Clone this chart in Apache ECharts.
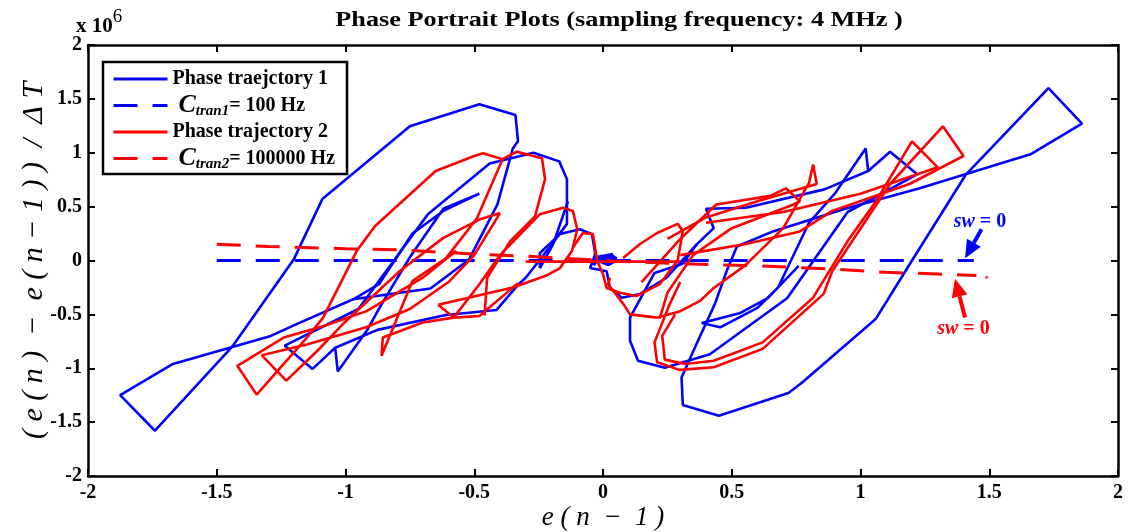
<!DOCTYPE html>
<html><head><meta charset="utf-8">
<script src="https://cdn.jsdelivr.net/npm/echarts@6/dist/echarts.min.js"></script>
<style>html,body{margin:0;padding:0;background:#fff}#c{width:1139px;height:532px}</style>
</head><body><div id="c"></div>
<script>
// x: e(n-1); y: (e(n)-e(n-1))/dT in units of 10^6
const xTicks = [-2,-1.5,-1,-0.5,0,0.5,1,1.5,2];
const yTicks = [-2,-1.5,-1,-0.5,0,0.5,1,1.5,2];

// ---- Phase trajectory 1 (blue) pieces ----
const blueOuterL = [[-0.52,0.01],[-0.41,0.52],[-0.35,1.04],[-0.33,1.11],[-0.34,1.35],[-0.48,1.45],[-0.75,1.245],[-1.09,0.57],[-1.2,0.015],[-1.44,-0.80],[-1.74,-1.58],[-1.875,-1.25],[-1.67,-0.96],[-1.29,-0.70],[-1.19,-0.59],[-0.97,-0.36],[-0.67,-0.26],[-0.52,0.01]];
const blueOuterR = [[0.48,-0.10],[0.435,-0.40],[0.364,-0.77],[0.305,-1.085],[0.31,-1.34],[0.45,-1.44],[0.72,-1.23],[0.77,-1.14],[1.06,-0.54],[1.20,0.0],[1.41,0.80],[1.73,1.60],[1.86,1.27],[1.66,0.985],[1.42,0.81],[1.23,0.67],[0.94,0.48],[0.66,0.27],[0.52,0.13],[0.48,-0.10]];
const blueLoop2L = [[-0.30,-0.16],[-0.326,-0.215],[-0.414,-0.46],[-0.61,-0.506],[-0.876,-0.644],[-1.04,-0.81],[-1.128,-1.006],[-1.236,-0.79],[-0.95,-0.45],[-0.68,0.43],[-0.44,0.90],[-0.27,1.0],[-0.17,0.92],[-0.14,0.755],[-0.14,0.34],[-0.21,0.115],[-0.30,-0.16]];
const blueLoop3L = [[-1.04,-0.81],[-1.03,-1.03],[-0.917,-0.65],[-0.866,-0.43],[-0.75,0.03],[-0.62,0.48],[-0.48,0.62],[-0.62,0.46],[-0.74,0.25],[-0.87,-0.22],[-0.97,-0.36]];
const blueLoop2R = [[0.31,-0.03],[0.364,0.15],[0.43,0.30],[0.40,0.48],[0.555,0.49],[0.86,0.66],[1.03,0.83],[1.115,1.01],[1.22,0.80],[0.95,0.45],[0.715,-0.35],[0.415,-0.87],[0.24,-0.995],[0.136,-0.93],[0.105,-0.745],[0.105,-0.53],[0.20,-0.115],[0.31,-0.03]];
const blueLoop3R = [[1.03,0.83],[1.02,1.04],[0.90,0.62],[0.80,0.35],[0.68,-0.25],[0.60,-0.44],[0.455,-0.62],[0.383,-0.58],[0.53,-0.49],[0.64,-0.35],[0.76,-0.05]];
const blueCenter = [[-0.136,0.55],[-0.194,0.15],[-0.245,-0.07],[-0.245,0.07],[-0.167,0.245],[-0.09,0.29],[-0.043,0.245],[-0.03,0.06],[-0.05,-0.07],[0.014,-0.10],[0.027,-0.25],[0.073,-0.345],[0.144,-0.31],[0.247,-0.16],[0.364,0.15]];
const blueBlob = [[-0.04,-0.04],[-0.02,0.03],[0.01,-0.02],[0.03,0.04],[0.05,0.01],[0.02,-0.03],[-0.03,0.02],[0.04,0.05]];
const blueDashed = [[-1.5,0],[1.44,0]];

// ---- Phase trajectory 2 (red) pieces ----
const redHoriz = [[0.30,-0.01],[-0.30,-0.01]];
const redL1 = [[-0.33,-0.21],[-0.48,-0.515],[-0.58,-0.53],[-0.70,-0.575],[-0.855,-0.715],[-0.86,-0.885],[-0.74,-0.19],[-0.61,0.02],[-0.49,0.39],[-0.39,0.94],[-0.334,1.01],[-0.237,0.95],[-0.225,0.755],[-0.264,0.41],[-0.36,0.18],[-0.45,-0.16],[-0.46,-0.51]];
const redL2 = [[-0.57,0.09],[-0.70,-0.16],[-0.918,-0.47],[-1.087,-0.61],[-1.24,-0.715],[-1.42,-0.977],[-1.345,-1.245],[-1.15,-0.715],[-1.087,-0.53],[-0.956,0.09],[-0.885,0.32],[-0.65,0.83],[-0.50,0.97],[-0.466,0.995],[-0.39,0.94]];
const redL3 = [[-0.40,0.44],[-0.48,0.38],[-0.62,0.21],[-0.79,-0.10],[-1.01,-0.59],[-1.11,-0.84],[-1.23,-1.115],[-1.325,-0.88],[-1.15,-0.78],[-0.92,-0.62],[-0.75,-0.45],[-0.60,-0.20],[-0.50,0.05],[-0.41,0.40],[-0.40,0.44]];
const redL4 = [[-0.64,-0.41],[-0.58,-0.53],[-0.48,-0.22],[-0.40,0.05],[-0.245,0.43],[-0.155,0.49],[-0.117,0.46],[-0.10,0.29],[-0.12,0.09],[-0.167,-0.07],[-0.22,-0.14],[-0.35,-0.25],[-0.64,-0.41]];
const redCenter = [[-0.117,0.12],[-0.078,0.255],[-0.039,0.245],[-0.023,0.0],[0.0,-0.125],[0.014,-0.255],[0.066,-0.30],[0.13,-0.33],[0.22,-0.22],[0.29,0.0],[0.31,0.275],[0.29,0.34],[0.21,0.255],[0.144,0.153],[0.078,0.023]];
const redR1 = [[0.027,-0.16],[0.02,-0.22],[0.078,-0.40],[0.105,-0.50],[0.21,-0.53],[0.30,-0.47],[0.377,-0.375],[0.43,-0.255],[0.55,-0.05],[0.70,0.30],[0.80,0.72],[0.816,0.89],[0.83,0.71],[0.60,0.55],[0.40,0.40],[0.25,0.20]];
const redRA = [[0.30,0.05],[0.55,0.15],[0.765,0.27],[0.89,0.46],[1.19,0.71],[1.40,0.97],[1.32,1.245],[1.115,0.71],[0.89,-0.10],[0.857,-0.31],[0.62,-0.82],[0.43,-0.99],[0.297,-1.015],[0.21,-0.945],[0.20,-0.76],[0.26,-0.40],[0.30,-0.20]];
const redRB = [[0.40,0.35],[0.70,0.45],[1.0,0.62],[1.30,0.865],[1.20,1.105],[1.06,0.55],[0.95,0.18],[0.816,-0.345],[0.62,-0.76],[0.43,-0.93],[0.32,-0.96],[0.24,-0.92],[0.23,-0.70],[0.28,-0.50]];
const redRC = [[0.15,-0.20],[0.30,0.20],[0.44,0.52],[0.65,0.60],[0.71,0.67],[0.765,0.55],[0.74,0.52],[0.50,0.30],[0.35,0.05],[0.25,-0.30],[0.22,-0.54]];
const redDashed = [[-1.5,0.15],[-1.3,0.13],[-1.0,0.11],[-0.8,0.10],[-0.5,0.06],[-0.3,0.04],[0,0.0],[0.3,-0.03],[0.6,-0.05],[0.9,-0.08],[1.1,-0.11],[1.3,-0.125],[1.45,-0.14]];
const redDot = [[1.49,-0.155]];

// annotation anchors (data coords)
const blueNote = {text:[1.464,0.36], tail:[1.47,0.29], tip:[1.406,0.02]};
const redNote = {text:[1.40,-0.63], tail:[1.406,-0.53], tip:[1.367,-0.17]};

const BLUE = '#0000FF', RED = '#FF0000';
const N1 = 'Phase traejctory 1', C1 = 'Ctran1', N2 = 'Phase trajectory 2', C2 = 'Ctran2';
const TITLE = 'Phase Portrait Plots (sampling frequency: 4 MHz )';
const YNAME = '( e ( n )  −  e ( n − 1 ) )  /  Δ T';
const XNAME = 'e ( n  −  1 )';

function solid(name, color, data, z){
  return {name, type:'line', data, symbol:'none', xAxisIndex:0, yAxisIndex:0,
    lineStyle:{color, width:2.6}, itemStyle:{color}, z: z||2, animation:false};
}
function dashed(name, color, data){
  return {name, type:'line', data, symbol:'none', lineStyle:{color, width:3, type:[24,15]}, itemStyle:{color}, z:3, animation:false};
}

const series = [
  solid(N1, BLUE, blueOuterL), solid(N1, BLUE, blueOuterR), solid(N1, BLUE, blueLoop2L), solid(N1, BLUE, blueLoop3L),
  solid(N1, BLUE, blueLoop2R), solid(N1, BLUE, blueLoop3R), solid(N1, BLUE, blueCenter),
  Object.assign(solid(N1, BLUE, blueBlob), {lineStyle:{color:BLUE,width:5}}),
  dashed(C1, BLUE, blueDashed),
  solid(N2, RED, redHoriz, 4), solid(N2, RED, redL1, 4), solid(N2, RED, redL2, 4), solid(N2, RED, redL3, 4), solid(N2, RED, redL4, 4),
  solid(N2, RED, redCenter, 4), solid(N2, RED, redR1, 4), solid(N2, RED, redRA, 4), solid(N2, RED, redRB, 4), solid(N2, RED, redRC, 4),
  dashed(C2, RED, redDashed),
  {name:C2, type:'scatter', data:redDot, symbol:'circle', symbolSize:3, itemStyle:{color:RED}, z:3, animation:false}
];

const serif = '"Liberation Serif", "Times New Roman", serif';
const axisLine = {show:true, onZero:false, lineStyle:{color:'#000', width:2.5}};
const tick = {inside:true, length:7, lineStyle:{color:'#000', width:2}};
const chart = echarts.init(document.getElementById('c'));
chart.setOption({
  animation:false,
  backgroundColor:'#fff',
  grid:{left:88, right:21, top:45, bottom:56, show:false, containLabel:false, outerBoundsMode:'none'},
  legend:{data:[N1,C1,N2,C2], orient:'vertical', left:103, top:62,
    backgroundColor:'#fff', borderColor:'#000', borderWidth:2.5, padding:[7,12,2,9], itemGap:3,
    itemWidth:54, itemHeight:16, itemStyle:{opacity:0}, lineStyle:{width:3},
    formatter: n => n===C1 ? '{c|C}{s|tran1}{b|= 100 Hz}' : n===C2 ? '{c|C}{s|tran2}{b|= 100000 Hz}' : '{b|'+n+'}',
    textStyle:{fontFamily:serif, fontWeight:'bold', fontSize:20, color:'#000',
      rich:{ b:{fontFamily:serif, fontWeight:'bold', fontSize:20, color:'#000', lineHeight:22},
             c:{fontFamily:serif, fontStyle:'italic', fontSize:26, color:'#000', padding:[0,0,0,6], lineHeight:22},
             s:{fontFamily:serif, fontStyle:'italic', fontSize:15, color:'#000', padding:[12,0,0,0], lineHeight:22} }}},
  xAxis:[
    {type:'value', min:-2, max:2, interval:0.5, position:'bottom',
     name:XNAME, nameLocation:'middle', nameGap:28, nameMoveOverlap:false,
     nameTextStyle:{fontFamily:serif, fontStyle:'italic', fontSize:27, color:'#000'},
     axisLine, axisTick:tick,
     axisLabel:{fontFamily:serif, fontWeight:'bold', fontSize:20, color:'#000', margin:7,
       formatter: v => (xTicks.indexOf(v) >= 0 ? String(v) : '')},
     splitLine:{show:false}},
    {type:'value', min:-2, max:2, interval:0.5, position:'top',
     axisLine, axisTick:tick, axisLabel:{show:false}, splitLine:{show:false}}
  ],
  yAxis:[
    {type:'value', min:-2, max:2, interval:0.5, position:'left',
     name:YNAME, nameLocation:'middle', nameGap:39, nameMoveOverlap:false,
     nameTextStyle:{fontFamily:serif, fontStyle:'italic', fontSize:30, color:'#000'},
     axisLine, axisTick:tick,
     axisLabel:{fontFamily:serif, fontWeight:'bold', fontSize:20, color:'#000', margin:6,
       formatter: v => (yTicks.indexOf(v) >= 0 ? String(v) : '')},
     splitLine:{show:false}},
    {type:'value', min:-2, max:2, interval:0.5, position:'right',
     axisLine, axisTick:tick, axisLabel:{show:false}, splitLine:{show:false}}
  ],
  series
});

// annotations placed through the axes' own scales
function px(p){ return chart.convertToPixel({xAxisIndex:0, yAxisIndex:0}, p); }
function arrow(note, color){
  const t = px(note.text), a = px(note.tail), b = px(note.tip);
  const dx = b[0]-a[0], dy = b[1]-a[1], L = Math.hypot(dx,dy), ux = dx/L, uy = dy/L;
  const hl = 18, hw = 8;
  const base = [b[0]-ux*hl, b[1]-uy*hl];
  return [
    {type:'text', x:t[0], y:t[1], style:{text:'{i|sw}{n| = 0}', align:'center', verticalAlign:'middle',
      rich:{i:{fontFamily:serif, fontStyle:'italic', fontWeight:'bold', fontSize:20, fill:color},
            n:{fontFamily:serif, fontWeight:'bold', fontSize:20, fill:color}}}, z:20},
    {type:'line', shape:{x1:a[0], y1:a[1], x2:base[0], y2:base[1]}, style:{stroke:color, lineWidth:4}, z:20},
    {type:'polygon', shape:{points:[[b[0],b[1]],[base[0]-uy*hw, base[1]+ux*hw],[base[0]+uy*hw, base[1]-ux*hw]]}, style:{fill:color}, z:20}
  ];
}
chart.setOption({graphic:[
  {type:'text', x:619, y:21, scaleX:1.25, style:{text:TITLE, align:'center', verticalAlign:'middle',
    font:'bold 21px ' + serif, fill:'#000'}},
  {type:'text', left:76, top:8, style:{text:'{a|x 10}{e|6}', rich:{a:{fontFamily:serif, fontWeight:'bold', fontSize:21, fill:'#000', padding:[9,0,0,0]}, e:{fontFamily:serif, fontSize:19, fill:'#000', padding:[0,0,9,0]}}}},
  ...arrow(blueNote, BLUE), ...arrow(redNote, RED)
]});
</script></body></html>
